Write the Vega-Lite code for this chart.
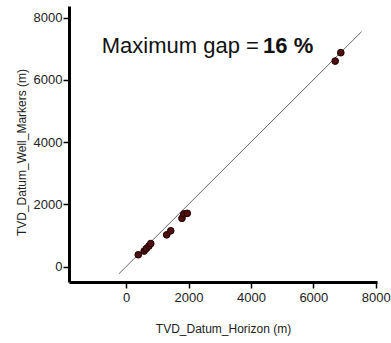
{
  "$schema": "https://vega.github.io/schema/vega-lite/v6.json",
  "width": 308,
  "height": 276,
  "autosize": {"type": "none"},
  "padding": {"left": 69, "top": 6, "right": 14, "bottom": 61},
  "background": "white",
  "config": {"view": {"stroke": null}, "font": "Liberation Sans"},
  "layer": [
    {
      "data": {"values": [{"x": -230, "y": -230}, {"x": 7550, "y": 7550}]},
      "mark": {"type": "line", "color": "#666666", "strokeWidth": 1},
      "encoding": {
        "x": {
          "field": "x", "type": "quantitative",
          "scale": {"domain": [-1830, 8040], "nice": false, "zero": false},
          "axis": {
            "title": "TVD_Datum_Horizon (m)",
            "values": [0, 1000, 2000, 3000, 4000, 5000, 6000, 7000, 8000],
            "format": "d",
            "labelExpr": "datum.value % 2000 === 0 ? datum.label : ''",
            "grid": false,
            "domainColor": "black", "domainWidth": 3,
            "tickColor": "black", "tickWidth": 1.5, "tickSize": 6,
            "labelFontSize": 13, "labelColor": "#222222", "labelPadding": 3,
            "labelFont": "Liberation Sans",
            "titleFont": "Liberation Sans",
            "titleFontSize": 12, "titleFontWeight": "normal", "titleColor": "#222222",
            "titleY": 41, "titleBaseline": "top"
          }
        },
        "y": {
          "field": "y", "type": "quantitative",
          "scale": {"domain": [-495, 8370], "nice": false, "zero": false},
          "axis": {
            "title": "TVD_Datum_Well_Markers (m)",
            "values": [0, 1000, 2000, 3000, 4000, 5000, 6000, 7000, 8000],
            "format": "d",
            "labelExpr": "datum.value % 2000 === 0 ? datum.label : ''",
            "grid": false,
            "domainColor": "black", "domainWidth": 3,
            "tickColor": "black", "tickWidth": 1.5, "tickSize": 6,
            "labelFontSize": 13, "labelColor": "#222222", "labelPadding": 1,
            "labelFont": "Liberation Sans",
            "titleFont": "Liberation Sans",
            "titleFontSize": 12, "titleFontWeight": "normal", "titleColor": "#222222",
            "titleX": -48, "titleY": 146, "titleBaseline": "middle"
          }
        }
      }
    },
    {
      "data": {"values": [
        {"x": 390, "y": 380},
        {"x": 580, "y": 500},
        {"x": 650, "y": 580},
        {"x": 730, "y": 660},
        {"x": 790, "y": 740},
        {"x": 1300, "y": 1020},
        {"x": 1430, "y": 1150},
        {"x": 1790, "y": 1550},
        {"x": 1850, "y": 1690},
        {"x": 1960, "y": 1710},
        {"x": 6700, "y": 6600},
        {"x": 6880, "y": 6870}
      ]},
      "mark": {"type": "circle", "size": 45, "fill": "#4e1010", "stroke": "#1e0000", "strokeWidth": 1, "opacity": 1},
      "encoding": {
        "x": {"field": "x", "type": "quantitative"},
        "y": {"field": "y", "type": "quantitative"}
      }
    },
    {
      "data": {"values": [{}]},
      "mark": {"type": "text", "text": "Maximum gap =", "align": "left", "baseline": "alphabetic", "font": "Liberation Sans", "fontSize": 22, "color": "#111111"},
      "encoding": {"x": {"datum": -779}, "y": {"datum": 6850}}
    },
    {
      "data": {"values": [{}]},
      "mark": {"type": "text", "text": "16 %", "align": "left", "baseline": "alphabetic", "font": "Liberation Sans", "fontSize": 22, "fontWeight": "bold", "color": "#111111"},
      "encoding": {"x": {"datum": 4390}, "y": {"datum": 6850}}
    }
  ]
}
